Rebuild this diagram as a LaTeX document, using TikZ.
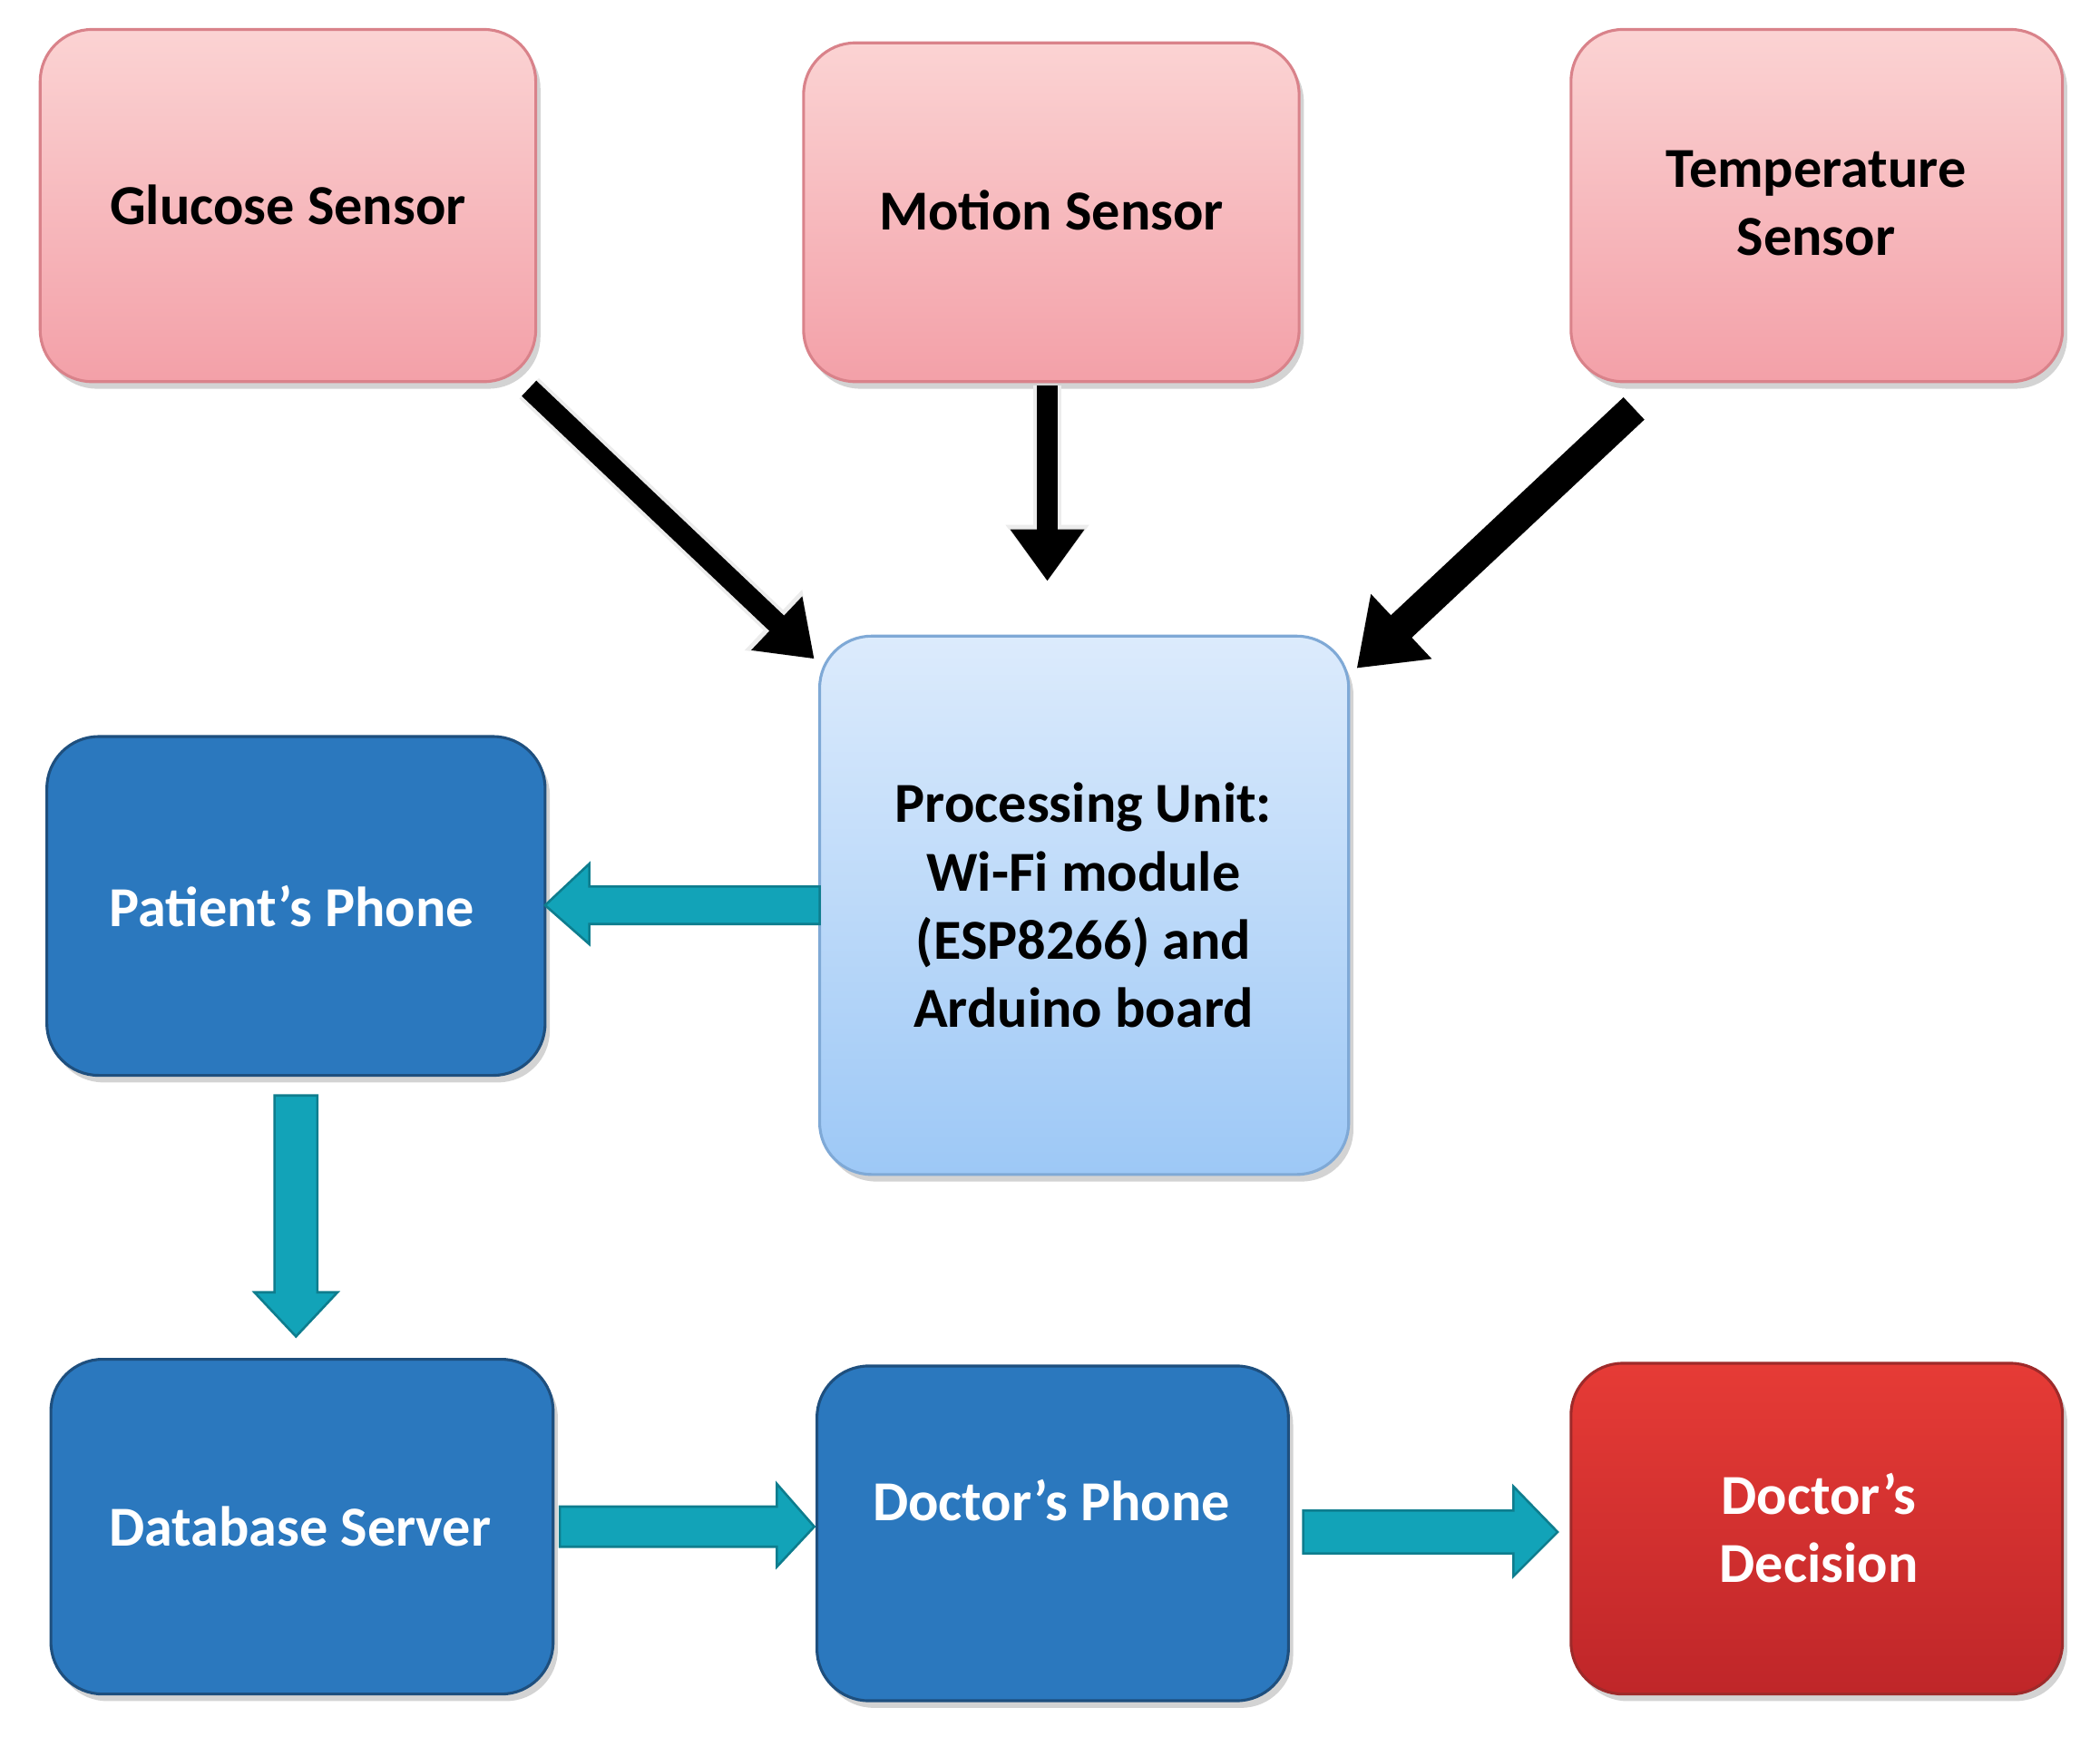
\documentclass[tikz,border=0pt]{standalone}
\usepackage{fontspec}
\setmainfont{Carlito}
\usetikzlibrary{arrows.meta,shadows}
\definecolor{pinkT}{HTML}{FBD3D3}\definecolor{pinkB}{HTML}{F3A0A8}\definecolor{pinkD}{HTML}{D9828A}
\definecolor{lbT}{HTML}{DCEBFC}\definecolor{lbB}{HTML}{9DC8F6}\definecolor{lbD}{HTML}{7FA9D6}
\definecolor{blu}{HTML}{2B78BE}\definecolor{bluD}{HTML}{1E4F7E}
\definecolor{redT}{HTML}{E63B36}\definecolor{redB}{HTML}{BF2629}\definecolor{redD}{HTML}{9E2A2A}
\definecolor{tea}{HTML}{12A3B8}\definecolor{teaD}{HTML}{0E7D8E}
\begin{document}
\begin{tikzpicture}[x=0.02cm,y=-0.02cm,
 box/.style={rounded corners=22pt,line width=1.2pt,font=\fontsize{24}{29}\selectfont\bfseries,align=center,
   drop shadow={shadow xshift=2pt,shadow yshift=-3pt,opacity=.35}},
 pinkbox/.style={box,draw=pinkD,top color=pinkT,bottom color=pinkB,text=black},
 bluebox/.style={box,draw=bluD,fill=blu,text=white},
 blk/.style={line width=9pt,draw=black,-{Triangle[length=22pt,width=30pt]},preaction={draw=white!85!gray,line width=12pt,-{Triangle[length=24pt,width=34pt]}}},
 tarrow/.style={fill=tea,draw=teaD,line width=1pt}]
\useasboundingbox (0,0) rectangle (1568,1297);
\def\bx#1#2#3#4#5#6#7{\path[#2] (#3,#4) rectangle (#5,#6); \node[#2,draw=none,fill=none,top color=,bottom color=,shading=,drop shadow={opacity=0},inner sep=0,minimum width={(#5-#3)*0.02cm},minimum height={(#6-#4)*0.02cm}] (#1) at ({(#3+#5)/2},{(#4+#6)/2}) {#7};}
\path[pinkbox] (30,22) rectangle (400,285);
\node[font=\fontsize{24}{29}\selectfont\bfseries] (g) at (215,153) {Glucose Sensor};
\path[pinkbox] (600,32) rectangle (970,285);
\node[font=\fontsize{24}{29}\selectfont\bfseries] (m) at (785,157) {Motion Sensor};
\path[pinkbox] (1173,22) rectangle (1540,285);
\node[font=\fontsize{24}{29}\selectfont\bfseries,align=center] (t) at (1356,152) {Temperature\\Sensor};
\path[box,draw=lbD,top color=lbT,bottom color=lbB] (612,475) rectangle (1007,877);
\node[font=\fontsize{24}{29}\selectfont\bfseries,align=center] (p) at (809,676) {Processing Unit:\\Wi-Fi module\\(ESP8266) and\\Arduino board};
\path[bluebox] (35,550) rectangle (407,803);
\node[font=\fontsize{24}{29}\selectfont\bfseries,text=white] (pp) at (218,677) {Patient’s Phone};
\path[bluebox] (38,1015) rectangle (413,1265);
\node[font=\fontsize{24}{29}\selectfont\bfseries,text=white] (db) at (224,1140) {Database Server};
\path[bluebox] (610,1020) rectangle (962,1270);
\node[font=\fontsize{24}{29}\selectfont\bfseries,text=white] (dp) at (785,1120) {Doctor’s Phone};
\path[box,draw=redD,top color=redT,bottom color=redB] (1173,1018) rectangle (1540,1265);
\node[font=\fontsize{24}{29}\selectfont\bfseries,text=white,align=center] (dd) at (1358,1141) {Doctor’s\\Decision};
% black arrows
\coordinate (g1) at (395,290); \coordinate (g2) at (608,492);
\coordinate (m1) at (782,288); \coordinate (m2) at (782,434);
\coordinate (t1) at (1220,305); \coordinate (t2) at (1013,499);
\draw[blk] (g1) -- (g2);
\draw[blk] (m1) -- (m2);
\draw[blk,line width=13pt,-{Triangle[length=26pt,width=36pt]}] (t1) -- (t2);
% teal block arrows
\path[tarrow] (612,662) -- (440,662) -- (440,645) -- (407,676) -- (440,705) -- (440,690) -- (612,690) -- cycle;
\path[tarrow] (205,818) -- (237,818) -- (237,965) -- (252,965) -- (221,998) -- (190,965) -- (205,965) -- cycle;
\path[tarrow] (418,1125) -- (580,1125) -- (580,1108) -- (608,1140) -- (580,1170) -- (580,1155) -- (418,1155) -- cycle;
\path[tarrow] (973,1128) -- (1130,1128) -- (1130,1110) -- (1163,1144) -- (1130,1177) -- (1130,1160) -- (973,1160) -- cycle;
\end{tikzpicture}
\end{document}
